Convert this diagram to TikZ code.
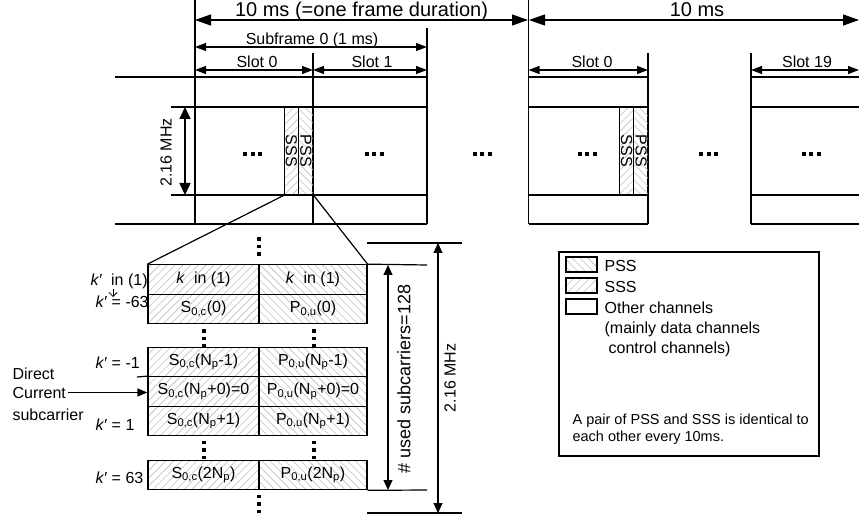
\documentclass[tikz,border=0pt]{standalone}
\usepackage{fontspec}
\setmainfont{Liberation Sans}
\usetikzlibrary{arrows.meta, positioning, calc, patterns.meta}

\begin{document}
\begin{tikzpicture}[
  x=1pt,
  y=-1pt,
  line width=1.2pt,
  font=\fontsize{16}{19}\selectfont,
  dimbig/.style={<->, >={Triangle[length=16pt, width=11pt]}},
  dim/.style={<->, >={Triangle[length=11pt, width=8pt]}},
  dimbold/.style={<->, line width=1.7pt, >={Triangle[length=12pt, width=11pt]}},
  dimthin/.style={<->, >={Triangle[length=10pt, width=9pt]}},
  pss/.style={pattern={Lines[angle=-45, distance=5.5pt, line width=0.6pt]}, pattern color=black!25},
  sss/.style={pattern={Lines[angle=45, distance=5.5pt, line width=0.6pt]}, pattern color=black!25},
  column/.style={draw, minimum width=14.5pt, minimum height=88pt, inner sep=0pt},
  cell/.style={draw, minimum height=29.5pt, inner sep=0pt},
  scell/.style={cell, sss, minimum width=111pt},
  pcell/.style={cell, pss, minimum width=108pt},
  swatch/.style={draw, minimum width=31pt, minimum height=15pt, inner sep=0pt},
  lab/.style={anchor=base west, inner sep=0pt},
  title/.style={anchor=base, inner sep=0pt},
  vdots/.pic={\foreach \d in {-7.5,0,7.5} \fill (-1.8,\d-1.8) rectangle ++(3.6,3.6);},
  hdots/.pic={\foreach \d in {-7.5,0,7.5} \fill (\d-2,-2) rectangle ++(4,4);}
]
  \useasboundingbox (0,0) rectangle (859,518);

  % Frame and slot durations along the top.
  \draw[dimbig] (195,20) -- (528,20);
  \draw[dimbig] (529,20) -- (859,20);
  \node[title, font=\fontsize{20}{24}\selectfont] at (361.5,17) (frame1) {10 ms (=one frame duration)};
  \node[title, font=\fontsize{20}{24}\selectfont] at (697,17)   (frame2) {10 ms};
  \draw[dim] (195,47) -- (427,47);
  \node[title] at (312,45) (sub0) {Subframe 0 (1 ms)};
  \draw[dim] (195,70) -- (313,70);
  \draw[dim] (313,70) -- (427,70);
  \draw[dim] (528.5,70) -- (648,70);
  \draw[dim] (751,70) -- (859,70);
  \node[title] at (257,68) (slotA) {Slot 0};
  \node[title] at (372,68) (slotB) {Slot 1};
  \node[title] at (592,68) (slotC) {Slot 0};
  \node[title] at (807,68) (slotD) {Slot 19};

  % Resource grid of the first subframe.
  \draw (195,0) -- (195,224);
  \draw (313,53) -- (313,224);
  \draw (427,28) -- (427,224);
  \draw (528.5,0) -- (528.5,224);
  \draw (115,77) -- (427,77);
  \draw (171,107) -- (427,107);
  \draw (171,195) -- (427,195);
  \draw (115,224) -- (427,224);
  \draw[dimbold] (185,107) -- (185,195);
  \node[rotate=90, inner sep=0pt] at (166,152.5) (bwA) {2.16 MHz};

  % Slot 0 and slot 19 of the next frame.
  \draw (648,53) -- (648,224);
  \draw (751,53) -- (751,224);
  \draw (528.5,77) -- (648,77)  (751,77) -- (860,77);
  \draw (528.5,107) -- (648,107) (751,107) -- (860,107);
  \draw (528.5,195) -- (648,195) (751,195) -- (860,195);
  \draw (528.5,224) -- (648,224) (751,224) -- (860,224);

  \node[column, sss] at (291.5,151) (sssA) {};
  \node[column, pss] at (306,151)   (pssA) {};
  \node[column, sss] at (626.5,151) (sssB) {};
  \node[column, pss] at (641,151)   (pssB) {};
  \node[rotate=-90, inner sep=0pt] at (sssA) {SSS};
  \node[rotate=-90, inner sep=0pt] at (pssA) {PSS};
  \node[rotate=-90, inner sep=0pt] at (sssB) {SSS};
  \node[rotate=-90, inner sep=0pt] at (pssB) {PSS};

  \pic at (252.5,154) {hdots};
  \pic at (374,154)   {hdots};
  \pic at (482,154)   {hdots};
  \pic at (587,154)   {hdots};
  \pic at (708.5,154) {hdots};
  \pic at (811,154)   {hdots};

  % Zoomed sequence table.
  \node[scell] at (203.5,279.5) (s1) {\textit{k}\ \ in (1)};
  \node[pcell] at (313,279.5)   (p1) {\textit{k}\ \ in (1)};
  \node[scell] at (203.5,309)   (s2) {S\textsubscript{0,c}(0)};
  \node[pcell] at (313,309)     (p2) {P\textsubscript{0,u}(0)};
  \node[scell] at (203.5,362)   (s3) {S\textsubscript{0,c}(N\textsubscript{p}-1)};
  \node[pcell] at (313,362)     (p3) {P\textsubscript{0,u}(N\textsubscript{p}-1)};
  \node[scell] at (203.5,391.5) (s4) {S\textsubscript{0,c}(N\textsubscript{p}+0)=0};
  \node[pcell] at (313,391.5)   (p4) {P\textsubscript{0,u}(N\textsubscript{p}+0)=0};
  \node[scell] at (203.5,421)   (s5) {S\textsubscript{0,c}(N\textsubscript{p}+1)};
  \node[pcell] at (313,421)     (p5) {P\textsubscript{0,u}(N\textsubscript{p}+1)};
  \node[scell] at (203.5,475)   (s6) {S\textsubscript{0,c}(2N\textsubscript{p})};
  \node[pcell] at (313,475)     (p6) {P\textsubscript{0,u}(2N\textsubscript{p})};

  \draw (sssA.south west) -- (s1.north west);
  \draw (pssA.south east) -- (p1.north east);

  \pic at (259,246.5) {vdots};
  \pic at (204,338.5) {vdots};
  \pic at (314,338.5) {vdots};
  \pic at (204,450)   {vdots};
  \pic at (314,450)   {vdots};
  \pic at (259,504)   {vdots};

  % Subcarrier indices on the left.
  \node[lab] at (90,286) (kin)  {\textit{k}′\ \ in (1)};
  \node[lab] at (95,308) (km63) {\textit{k}′ = -63};
  \node[lab] at (95,369) (km1)  {\textit{k}′ = -1};
  \node[lab] at (95,430) (kp1)  {\textit{k}′ = 1};
  \node[lab] at (95,483) (kp63) {\textit{k}′ = 63};
  \coordinate (kdown) at (113,297);
  \draw[-{Straight Barb[length=4pt, width=8pt]}, line width=0.8pt] (113,289) -- (kdown);
  \coordinate (tick) at (137,377);
  \draw (tick) -- (s4.north west);

  \node[lab] at (12,379) (dcA) {Direct};
  \node[lab] at (12,398) (dcB) {Current};
  \node[lab] at (12,420) (dcC) {subcarrier};
  \draw[->, >={Triangle[length=10pt, width=8pt]}, shorten <=1pt] (dcB.east) -- (dcB.east -| s4.west);

  % Bandwidth dimensions on the right.
  \draw (p1.north east) -- (427,265);
  \draw (p6.south east) -- (427,490);
  \draw[dimthin] (388,265) -- (388,490);
  \node[rotate=90, inner sep=0pt, font=\fontsize{18}{21}\selectfont] at (404,379) (used) {\# used subcarriers=128};
  \coordinate (bwtop) at (367,243);
  \coordinate (bwbot) at (367,513);
  \draw (bwtop) -- (462,243);
  \draw (bwbot) -- (462,513);
  \draw[dimthin] (438,243) -- (438,513);
  \node[rotate=90, inner sep=0pt] at (450,378) (bwB) {2.16 MHz};

  % Legend.
  \node[draw, minimum width=260pt, minimum height=204pt, inner sep=0pt] at (689,354) (legend) {};
  \node[swatch, pss] at (581.5,264.5) (keyP) {};
  \node[swatch, sss] at (581.5,285.5) (keyS) {};
  \node[swatch]      at (581.5,306.5) (keyO) {};
  \node[lab] at (604,272) (txtP) {PSS};
  \node[lab] at (604,293) (txtS) {SSS};
  \node[lab] at (604,314) (txtO) {Other channels};
  \node[lab] at (604,334) (txtO2) {(mainly data channels};
  \node[lab] at (608,354) (txtO3) {control channels)};
  \node[lab, font=\fontsize{14.5}{17}\selectfont] at (572,424) (note1) {A pair of PSS and SSS is identical to};
  \node[lab, font=\fontsize{14.5}{17}\selectfont] at (572,441) (note2) {each other every 10ms.};

\end{tikzpicture}
\end{document}
